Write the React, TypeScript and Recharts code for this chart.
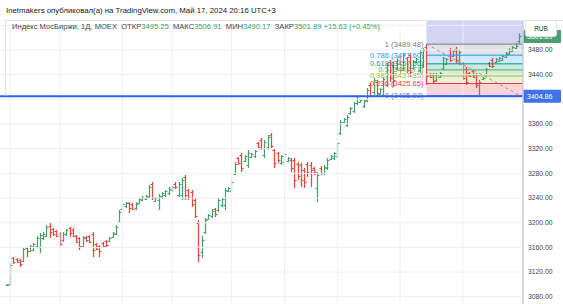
import React from 'react';
import { ComposedChart, Bar, XAxis, YAxis, ReferenceLine, ReferenceArea } from 'recharts';

// ---- OHLC data (daily bars, oldest -> newest) ----
const opens = [
  3098.9, 3100.6, 3142.7, 3141.1, 3139.5, 3137.9, 3158.9, 3154.1, 3155.7, 3162.2,
  3160.6, 3175.2, 3178.4, 3194.6, 3189.8, 3186.5, 3181.7, 3171.9, 3181.7, 3191.4,
  3188.1, 3178.4, 3175.2, 3162.2, 3176.8, 3178.4, 3181.7, 3165.4, 3162.2, 3167.1,
  3170.3, 3170.3, 3176.8, 3181.7, 3201.1, 3222.2, 3227.0, 3231.9, 3230.3, 3223.8,
  3231.9, 3236.8, 3238.4, 3241.6, 3262.7, 3235.2, 3236.8, 3241.6, 3244.9, 3248.1,
  3253.0, 3262.7, 3244.9, 3244.9, 3274.1, 3253.0, 3249.8, 3236.8, 3199.5, 3152.5,
  3184.9, 3206.0, 3210.8, 3222.2, 3220.6, 3228.7, 3228.7, 3251.4, 3251.4, 3278.9,
  3304.9, 3309.8, 3300.0, 3293.5, 3306.5, 3308.2, 3329.2, 3334.1, 3309.8, 3322.7,
  3342.2, 3317.9, 3313.0, 3296.8, 3298.4, 3300.0, 3301.6, 3301.6, 3295.2, 3293.5,
  3285.4, 3295.2, 3293.5, 3288.7, 3256.2, 3288.7, 3280.6, 3288.7, 3303.3, 3304.9,
  3308.2, 3345.4, 3363.3, 3358.4, 3377.9, 3381.1, 3394.1, 3395.7, 3389.2, 3398.9,
  3423.3, 3411.9, 3428.1, 3408.6, 3407.0, 3423.3, 3460.5, 3455.7, 3450.8, 3468.7,
  3450.8, 3467.0, 3471.9, 3450.8, 3460.5, 3447.6, 3455.7, 3484.9, 3441.1, 3439.5,
  3431.4, 3436.2, 3450.8, 3457.3, 3480.0, 3470.3, 3481.6, 3458.9, 3457.3, 3449.2,
  3442.7, 3445.9, 3439.5, 3407.0, 3433.0, 3441.1, 3458.9, 3463.8, 3460.5, 3462.2,
  3463.8, 3468.7, 3473.5, 3478.4, 3483.2, 3495.25,
];
const highs = [
  3100.6, 3134.6, 3144.3, 3142.7, 3141.1, 3158.9, 3160.6, 3163.8, 3167.1, 3178.4,
  3183.3, 3184.9, 3196.3, 3199.5, 3191.4, 3188.1, 3184.9, 3184.9, 3189.8, 3193.0,
  3191.4, 3180.0, 3176.8, 3178.4, 3178.4, 3180.0, 3184.9, 3167.1, 3163.8, 3168.7,
  3171.9, 3176.8, 3184.9, 3196.3, 3220.6, 3231.9, 3233.5, 3233.5, 3231.9, 3233.5,
  3240.0, 3243.3, 3244.9, 3261.1, 3266.0, 3241.6, 3246.5, 3249.8, 3253.0, 3257.8,
  3259.5, 3266.0, 3266.0, 3272.4, 3277.3, 3254.6, 3253.0, 3240.0, 3204.4, 3178.4,
  3207.6, 3214.1, 3222.2, 3223.8, 3240.0, 3240.0, 3256.2, 3257.8, 3269.2, 3298.4,
  3306.5, 3313.0, 3309.8, 3317.9, 3313.0, 3317.9, 3330.8, 3337.3, 3334.1, 3342.2,
  3345.4, 3321.1, 3314.6, 3309.8, 3314.6, 3306.5, 3304.9, 3304.9, 3298.4, 3296.8,
  3288.7, 3298.4, 3298.4, 3290.3, 3282.2, 3291.9, 3293.5, 3304.9, 3309.8, 3314.6,
  3330.8, 3366.5, 3369.7, 3374.6, 3387.6, 3395.7, 3407.0, 3398.9, 3400.6, 3418.4,
  3426.5, 3434.6, 3431.4, 3418.4, 3436.2, 3458.9, 3463.8, 3460.5, 3467.0, 3471.9,
  3475.1, 3468.7, 3475.1, 3463.8, 3467.0, 3480.0, 3483.2, 3489.48, 3442.7, 3442.7,
  3442.7, 3444.3, 3468.7, 3467.0, 3483.2, 3480.0, 3484.9, 3480.0, 3460.5, 3452.4,
  3444.3, 3447.6, 3442.7, 3431.4, 3436.2, 3450.8, 3460.5, 3467.0, 3467.0, 3468.7,
  3471.9, 3476.8, 3483.2, 3486.5, 3491.4, 3506.91,
];
const lows = [
  3097.3, 3098.9, 3133.0, 3134.6, 3128.1, 3136.2, 3144.3, 3152.5, 3154.1, 3158.9,
  3150.8, 3171.9, 3176.8, 3175.2, 3178.4, 3176.8, 3162.2, 3168.7, 3178.4, 3176.8,
  3176.8, 3167.1, 3155.7, 3158.9, 3168.7, 3167.1, 3144.3, 3155.7, 3144.3, 3158.9,
  3160.6, 3168.7, 3175.2, 3180.0, 3199.5, 3218.9, 3223.8, 3215.7, 3220.6, 3220.6,
  3230.3, 3235.2, 3236.8, 3240.0, 3236.8, 3233.5, 3220.6, 3238.4, 3241.6, 3244.9,
  3249.8, 3254.6, 3241.6, 3236.8, 3236.8, 3236.8, 3225.4, 3207.6, 3136.2, 3142.7,
  3181.7, 3204.4, 3207.6, 3209.2, 3217.3, 3225.4, 3220.6, 3249.8, 3248.1, 3277.3,
  3293.5, 3282.2, 3298.4, 3288.7, 3304.9, 3304.9, 3321.1, 3317.9, 3304.9, 3317.9,
  3321.1, 3288.7, 3296.8, 3293.5, 3293.5, 3298.4, 3282.2, 3256.2, 3269.2, 3257.8,
  3256.2, 3274.1, 3257.8, 3277.3, 3233.5, 3277.3, 3277.3, 3285.4, 3301.6, 3301.6,
  3304.9, 3342.2, 3361.6, 3355.2, 3374.6, 3377.9, 3390.8, 3394.1, 3385.9, 3395.7,
  3403.8, 3407.0, 3405.4, 3407.0, 3403.8, 3420.0, 3428.1, 3420.0, 3447.6, 3439.5,
  3447.6, 3442.7, 3436.2, 3447.6, 3458.9, 3442.7, 3450.8, 3423.3, 3434.6, 3426.5,
  3428.1, 3434.6, 3447.6, 3455.7, 3460.5, 3468.7, 3458.9, 3455.7, 3431.4, 3423.3,
  3436.2, 3434.6, 3418.4, 3405.93, 3431.4, 3439.5, 3452.4, 3450.8, 3458.9, 3460.5,
  3462.2, 3467.0, 3471.9, 3476.8, 3481.6, 3490.17,
];
const closes = [
  3099.5, 3131.4, 3136.2, 3136.2, 3133.0, 3157.3, 3154.1, 3162.2, 3165.4, 3175.2,
  3180.0, 3181.7, 3193.0, 3184.9, 3181.7, 3178.4, 3165.4, 3181.7, 3188.1, 3183.3,
  3178.4, 3168.7, 3162.2, 3175.2, 3171.9, 3168.7, 3155.7, 3157.3, 3154.1, 3162.2,
  3163.8, 3175.2, 3183.3, 3193.0, 3217.3, 3230.3, 3231.9, 3223.8, 3222.2, 3230.3,
  3238.4, 3241.6, 3243.3, 3257.8, 3240.0, 3240.0, 3243.3, 3248.1, 3251.4, 3254.6,
  3257.8, 3257.8, 3262.7, 3269.2, 3244.9, 3241.6, 3230.3, 3210.8, 3147.6, 3171.9,
  3204.4, 3212.5, 3218.9, 3214.1, 3236.8, 3238.4, 3253.0, 3256.2, 3266.0, 3295.2,
  3296.8, 3288.7, 3308.2, 3313.0, 3311.4, 3316.2, 3322.7, 3321.1, 3330.8, 3339.0,
  3324.4, 3296.8, 3301.6, 3308.2, 3311.4, 3304.9, 3288.7, 3269.2, 3275.7, 3269.2,
  3266.0, 3282.2, 3285.4, 3282.2, 3277.3, 3280.6, 3290.3, 3301.6, 3308.2, 3313.0,
  3329.2, 3363.3, 3368.1, 3371.4, 3385.9, 3394.1, 3405.4, 3398.1, 3397.3, 3415.1,
  3407.0, 3431.4, 3410.3, 3416.8, 3433.0, 3455.7, 3434.6, 3431.4, 3463.8, 3447.6,
  3471.9, 3447.6, 3444.3, 3460.5, 3465.4, 3476.8, 3480.0, 3437.8, 3436.2, 3429.7,
  3441.1, 3442.7, 3467.0, 3465.4, 3463.8, 3478.4, 3463.8, 3476.8, 3434.6, 3428.1,
  3437.8, 3436.2, 3423.3, 3428.1, 3434.6, 3449.2, 3454.1, 3454.1, 3465.4, 3467.0,
  3470.3, 3475.1, 3481.6, 3484.9, 3486.26, 3501.89,
];

// ---- axis / annotation values ----
const priceTicks = [3080, 3120, 3160, 3200, 3240, 3280, 3320, 3360, 3400, 3440, 3480, 3520];
const hiddenTickLabels = [3400, 3520];
const timeGridIdx = [1, 16, 35, 50, 68, 84, 100, 119, 138];
const fibLevels = [0, 0.236, 0.382, 0.5, 0.618, 0.786, 1, 1.618];
const fibColors = ['#787B86', '#F23645', '#9DBB38', '#4CAF50', '#089981', '#2196F3', '#787B86', '#3535C8'];
const FIB_HIGH = 3489.48;
const FIB_LOW = 3405.93;
const FIB_START = 127;
const FIB_END = 155.3;
const H_LINE = 3404.86;

const Y_MIN = 3068.2;
const Y_MAX = 3528.6;
const X_MIN = -2.1;
const X_MAX = 156.2;

const UP = '#4a9f6e';
const DOWN = '#e8453c';
const GREEN_TXT = '#3c9f5d';
const FONT = '"Liberation Sans", Arial, sans-serif';

const data = opens.map((o, i) => ({ i, o, h: highs[i], l: lows[i], c: closes[i] }));

const last = data.length - 1;
const change = closes[last] - closes[last - 1];
const changePct = (change / closes[last - 1]) * 100;

const fibPrice = (lvl: number) => FIB_LOW + lvl * (FIB_HIGH - FIB_LOW);
const fmt2 = (v: number) => (Math.round(v * 100 + 1e-6) / 100).toFixed(2);

const OhlcShape = (props: any) => {
  const { x, y, width, height, payload } = props;
  if (!payload || x == null || y == null) return null;
  const { o, h, l, c } = payload;
  const top = Math.min(y, y + height);
  const bot = Math.max(y, y + height);
  const span = h - l || 1;
  const cx = Math.round(x + width / 2) + 0.5;
  const yo = Math.round(top + ((h - o) / span) * (bot - top)) + 0.5;
  const yc = Math.round(top + ((h - c) / span) * (bot - top)) + 0.5;
  const col = c >= o ? UP : DOWN;
  return (
    <g>
      <line x1={cx} x2={cx} y1={top} y2={Math.max(bot, top + 1)} stroke={col} strokeWidth={1.25} />
      <line x1={cx - 2} x2={cx} y1={yo} y2={yo} stroke={col} strokeWidth={1.1} />
      <line x1={cx} x2={cx + 2} y1={yc} y2={yc} stroke={col} strokeWidth={1.1} />
    </g>
  );
};

const AxisTag = (fill: string, text: string, textColor: string) => (p: any) => {
  const vb = p.viewBox || {};
  const ax = (vb.x || 0) + (vb.width || 0);
  const ay = vb.y || 0;
  return (
    <g>
      <rect x={ax} y={ay - 6.5} width={38} height={13} fill={fill} rx={1} />
      <text x={ax + 4} y={ay} dominantBaseline="central" fontSize={7} fill={textColor} fontFamily={FONT}>
        {text}
      </text>
    </g>
  );
};

const FibLabel = (lvl: number, color: string) => (p: any) => {
  const vb = p.viewBox || {};
  return (
    <text
      x={(vb.x || 0) - 3}
      y={vb.y || 0}
      textAnchor="end"
      dominantBaseline="central"
      fontSize={7.6}
      fill={color}
      fontFamily={FONT}
    >
      {`${lvl} (${fmt2(fibPrice(lvl))})`}
    </text>
  );
};

export default function App() {
  return (
    <div style={{ position: 'absolute', left: 0, top: 0, width: 563, height: 304, background: '#fff', overflow: 'hidden' }}>
      <ComposedChart
        width={563}
        height={304}
        data={data}
        margin={{ top: 20, right: 0, bottom: 0, left: 0 }}
      >
        <XAxis dataKey="i" type="number" domain={[X_MIN, X_MAX]} allowDataOverflow hide />
        <YAxis
          orientation="right"
          width={40}
          domain={[Y_MIN, Y_MAX]}
          allowDataOverflow
          ticks={priceTicks}
          interval={0}
          tickSize={0}
          tickMargin={5}
          tickLine={false}
          axisLine={{ stroke: '#c9ccd3', strokeWidth: 1.5 }}
          tick={{ fontSize: 6.8, fill: '#444', fontFamily: FONT, textAnchor: 'start' }}
          tickFormatter={(v: number) => (hiddenTickLabels.includes(v) ? '' : v.toFixed(2))}
        />
        {priceTicks.map((t) => (
          <ReferenceLine key={`hg${t}`} y={t} stroke="#eef0f4" strokeWidth={1} />
        ))}
        {timeGridIdx.map((t) => (
          <ReferenceLine key={`vg${t}`} x={t} stroke="#eef0f4" strokeWidth={1} />
        ))}
        {fibLevels.slice(0, -1).map((lvl, k) => (
          <ReferenceArea
            key={`fa${lvl}`}
            x1={FIB_START}
            x2={X_MAX}
            y1={fibPrice(lvl)}
            y2={Math.min(fibPrice(fibLevels[k + 1]), Y_MAX)}
            fill={fibColors[k + 1]}
            fillOpacity={0.22}
            stroke="none"
            ifOverflow="hidden"
          />
        ))}
        {fibLevels.slice(0, -1).map((lvl, k) => (
          <ReferenceLine
            key={`fl${lvl}`}
            segment={[
              { x: FIB_START, y: fibPrice(lvl) },
              { x: X_MAX, y: fibPrice(lvl) },
            ]}
            stroke={fibColors[k]}
            strokeWidth={1}
            ifOverflow="extendDomain"
            label={FibLabel(lvl, fibColors[k])}
          />
        ))}
        <ReferenceLine
          segment={[
            { x: FIB_START, y: FIB_HIGH },
            { x: FIB_END, y: FIB_LOW },
          ]}
          stroke="#9598a1"
          strokeDasharray="3 3"
          strokeWidth={1}
        />
        <Bar
          dataKey={(d: any) => [d.l, d.h]}
          barSize={3}
          isAnimationActive={false}
          shape={<OhlcShape />}
        />
        <ReferenceLine
          y={H_LINE}
          stroke="#2962FF"
          strokeWidth={2}
          label={AxisTag('#3f74e6', H_LINE.toFixed(2), '#fff')}
        />
        <ReferenceLine
          y={closes[last]}
          stroke="none"
          label={AxisTag('#4a9f6e', closes[last].toFixed(2), '#fff')}
        />
      </ComposedChart>

      {/* pane borders */}
      <div style={{ position: 'absolute', left: 5, top: 20, width: 558, height: 1, background: '#e0e3eb' }} />
      <div style={{ position: 'absolute', left: 5, top: 20, width: 1, height: 76, background: '#e0e3eb' }} />

      {/* currency box */}
      <div
        style={{
          position: 'absolute', left: 525, top: 20, width: 30, height: 15,
          border: '1px solid #e0e3eb', borderRadius: 3, background: '#fff',
          fontFamily: FONT, fontSize: 6.5, color: '#333', lineHeight: '15px', textAlign: 'center',
        }}
      >
        RUB
      </div>

      {/* header */}
      <div
        style={{
          position: 'absolute', left: 6, top: 5.5, fontFamily: FONT, fontSize: 7.8,
          lineHeight: '9px', color: '#131722', whiteSpace: 'nowrap',
        }}
      >
        Inetmakers опубликовал(а) на TradingView.com, Май 17, 2024 20:16 UTC+3
      </div>

      {/* legend */}
      <div
        style={{
          position: 'absolute', left: 12, top: 21.5, fontFamily: FONT, fontSize: 7.6,
          lineHeight: '9px', color: '#444', whiteSpace: 'nowrap',
        }}
      >
        Индекс МосБиржи, 1Д, MOEX&nbsp;&nbsp;ОТКР<span style={{ color: GREEN_TXT }}>{opens[last].toFixed(2)}</span>
        &nbsp;&nbsp;МАКС<span style={{ color: GREEN_TXT }}>{highs[last].toFixed(2)}</span>
        &nbsp;&nbsp;МИН<span style={{ color: GREEN_TXT }}>{lows[last].toFixed(2)}</span>
        &nbsp;&nbsp;ЗАКР<span style={{ color: GREEN_TXT }}>{closes[last].toFixed(2)}</span>
        <span style={{ color: GREEN_TXT }}>
          &nbsp;{change >= 0 ? '+' : ''}{change.toFixed(2)} ({change >= 0 ? '+' : ''}{changePct.toFixed(2)}%)
        </span>
      </div>
    </div>
  );
}
